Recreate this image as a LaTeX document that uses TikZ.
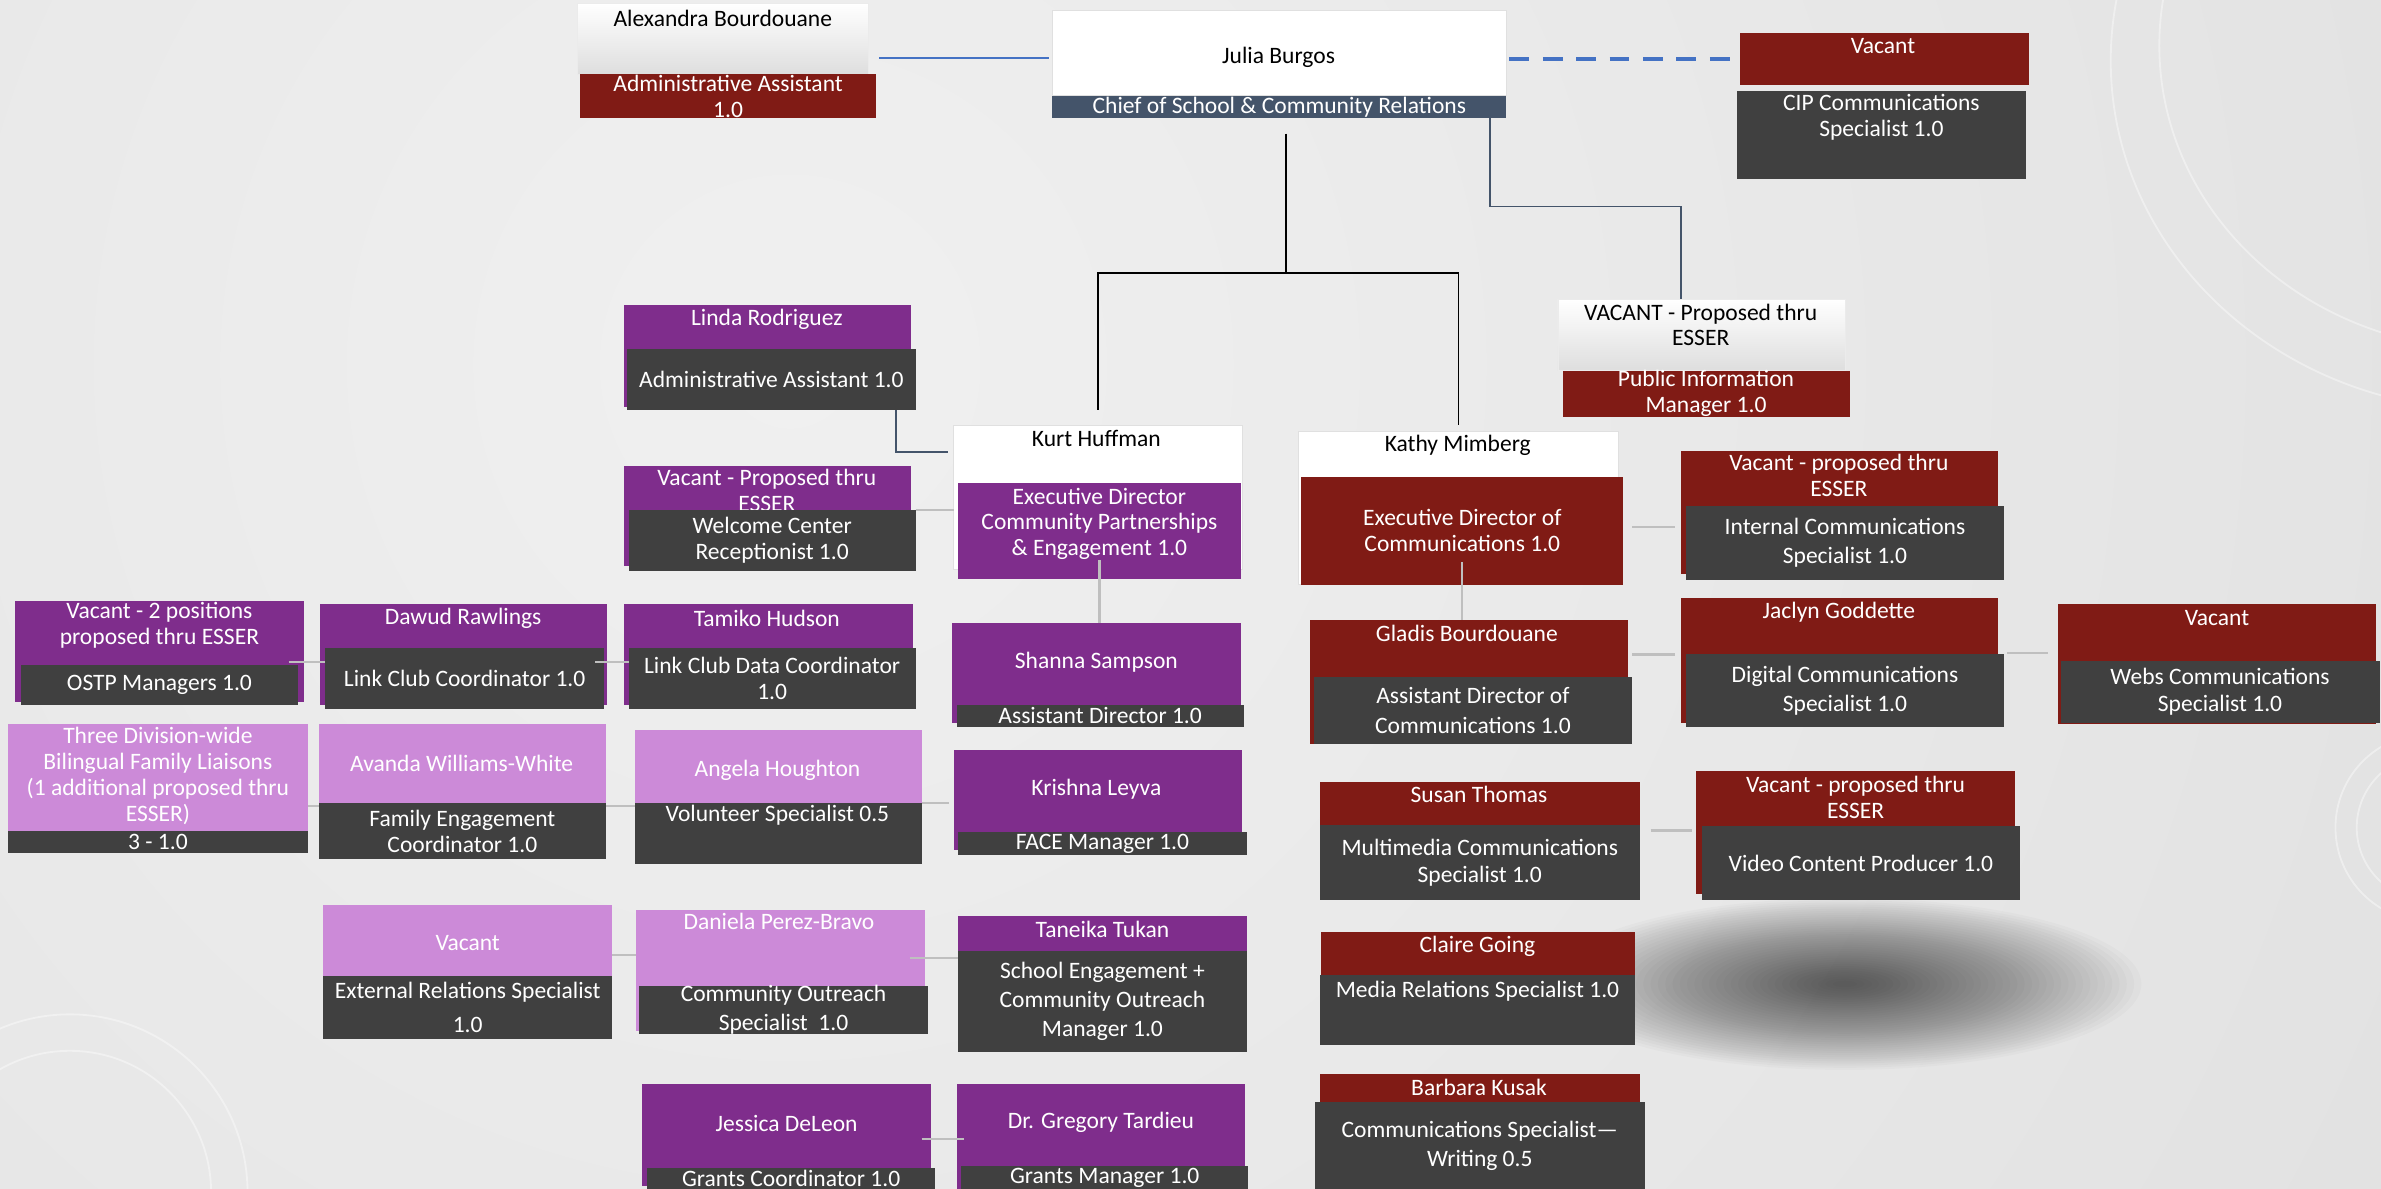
\documentclass[tikz,border=0pt]{standalone}
\usepackage{fontspec}
\setmainfont{Carlito}

\definecolor{cred}{RGB}{128,27,21}
\definecolor{cpurple}{RGB}{127,45,140}
\definecolor{clilac}{RGB}{204,138,216}
\definecolor{cdark}{RGB}{64,64,64}
\definecolor{cslate}{RGB}{68,84,106}
\definecolor{cblue}{RGB}{68,114,196}
\definecolor{cline}{RGB}{191,191,191}
\definecolor{bglight}{RGB}{240,240,240}
\definecolor{bgdark}{RGB}{216,216,216}

\tikzset{
  every node/.style={font=\fontsize{15.5}{17}\selectfont},
  box/.style={anchor=north west, inner sep=0pt, outer sep=0pt, align=center, text=white},
  wh/.style 2 args={minimum width=#1, minimum height=#2},
  boxr/.style={box, fill=cred},
  boxp/.style={box, fill=cpurple},
  boxl/.style={box, fill=clilac},
  boxd/.style={box, fill=cdark},
  boxs/.style={box, fill=cslate},
  boxw/.style={box, fill=white, draw=black!12, text=black},
  boxg/.style={box, top color=white, bottom color=black!13, draw=black!8, text=black},
  who/.style={inner sep=0pt, align=center, text=white},
  link/.style={draw=cline, line width=1.5pt},
  tree/.style={draw=black, line width=1.2pt},
  slateline/.style={draw=cslate, line width=1.3pt},
  ls/.style={font=\fontsize{15.5}{#1}\selectfont},
}

\begin{document}
\begin{tikzpicture}[x=1pt, y=-1pt]
  \useasboundingbox (0,0) rectangle (1568,783);
  % background
  \begin{scope}
    \clip (0,0) rectangle (1568,783);
    \shade[inner color=bglight, outer color=bgdark] (520,240) circle [radius=2000pt];
    \draw[white, opacity=0.4, line width=1.2pt] (1640,40) ellipse [x radius=250, y radius=230]
      (1640,30) ellipse [x radius=218, y radius=200]
      (1600,545) circle [radius=62pt] (1600,545) circle [radius=48pt]
      (46,785) circle [radius=117pt] (46,785) circle [radius=93pt];
    \foreach \k in {1,...,40}
      \fill[black, opacity=0.02] (1215,648) ellipse [x radius={200-4.8*\k}, y radius={58-1.4*\k}];
  \end{scope}

  % top row
  \node[boxg, wh={192}{47}] (alex) at (380,2) {};
  \node[who, text=black] (alexN) at (476,12) {Alexandra Bourdouane};
  \node[boxr, wh={195}{29}] (alexT) at (382,49) {Administrative Assistant\\1.0};

  \node[boxw, wh={299}{56}] (julia) at (693,7) {};
  \node[who, text=black] (juliaN) at (842,38) {Julia Burgos};
  \node[boxs, wh={299}{15}] (juliaT) at (693,63) {Chief of School \& Community Relations};

  \node[boxr, wh={190}{34}] (cip) at (1146,22) {};
  \node[who] (cipN) at (1240,30) {Vacant};
  \node[boxd, wh={190}{58}] (cipT) at (1144,60) {};
  \node[who] (cipX) at (1239,77) {CIP Communications\\Specialist 1.0};

  \node[boxg, wh={189}{47}] (pim) at (1026,197) {};
  \node[who, text=black] (pimN) at (1120,214) {VACANT - Proposed thru\\ESSER};
  \node[boxr, wh={189}{29}] (pimT) at (1029,244) {Public Information\\Manager 1.0};

  % Kurt Huffman
  \node[boxp, wh={189}{67}] (linda) at (411,201) {};
  \node[who] (lindaN) at (505,210) {Linda Rodriguez};
  \node[boxd, wh={190}{40}] (lindaT) at (413,230) {Administrative Assistant 1.0};

  \node[boxp, wh={189}{66}] (welcome) at (411,307) {};
  \node[who] (welcomeN) at (505,323) {Vacant - Proposed thru\\ESSER};
  \node[boxd, wh={189}{40}] (welcomeT) at (414,336) {Welcome Center\\Receptionist 1.0};

  \node[boxw, wh={190}{95}] (kurt) at (628,280) {};
  \node[who, text=black] (kurtN) at (722,289) {Kurt Huffman};
  \node[boxp, wh={186}{63}] (kurtT) at (631,318) {};
  \node[who] (kurtX) at (724,345) {Executive Director\\Community Partnerships\\\& Engagement 1.0};

  \node[boxp, wh={190}{66}] (shanna) at (627,410) {};
  \node[who] (shannaN) at (722,436) {Shanna Sampson};
  \node[boxd, wh={189}{15}] (shannaT) at (630,464) {Assistant Director 1.0};

  \node[boxp, wh={190}{66}] (krishna) at (628,494) {};
  \node[who] (krishnaN) at (722,520) {Krishna Leyva};
  \node[boxd, wh={190}{15}] (krishnaT) at (631,548) {FACE Manager 1.0};

  \node[boxp, wh={190}{23}] (taneika) at (631,603) {};
  \node[who] (taneikaN) at (726,612) {Taneika Tukan};
  \node[boxd, wh={190}{67}, ls=19] (taneikaT) at (631,626) {School Engagement +\\Community Outreach\\Manager 1.0};

  \node[boxp, wh={190}{69}] (gregory) at (630,714) {};
  \node[who] (gregoryN) at (725,739) {Dr. Gregory Tardieu};
  \node[boxd, wh={189}{15}] (gregoryT) at (633,768) {Grants Manager 1.0};

  \node[boxp, wh={190}{67}] (jessica) at (423,714) {};
  \node[who] (jessicaN) at (518,740) {Jessica DeLeon};
  \node[boxd, wh={190}{14}] (jessicaT) at (426,769) {Grants Coordinator 1.0};

  % family and community
  \node[boxp, wh={190}{66}] (tamiko) at (411,398) {};
  \node[who] (tamikoN) at (505,407) {Tamiko Hudson};
  \node[boxd, wh={189}{40}] (tamikoT) at (414,427) {Link Club Data Coordinator\\1.0};

  \node[boxp, wh={189}{66}] (dawud) at (211,398) {};
  \node[who] (dawudN) at (305,407) {Dawud Rawlings};
  \node[boxd, wh={184}{40}] (dawudT) at (214,427) {Link Club Coordinator 1.0};

  \node[boxp, wh={190}{66}] (ostp) at (10,396) {};
  \node[who] (ostpN) at (105,412) {Vacant - 2 positions\\proposed thru ESSER};
  \node[boxd, wh={182}{26}] (ostpT) at (14,438) {OSTP Managers 1.0};

  \node[boxl, wh={198}{70}] (liaison) at (5,477) {};
  \node[who] (liaisonN) at (104,511) {Three Division-wide\\Bilingual Family Liaisons\\(1 additional proposed thru\\ESSER)};
  \node[boxd, wh={198}{15}] (liaisonT) at (5,547) {3 - 1.0};

  \node[boxl, wh={189}{52}] (avanda) at (210,477) {};
  \node[who] (avandaN) at (304,503) {Avanda Williams-White};
  \node[boxd, wh={189}{37}] (avandaT) at (210,529) {Family Engagement\\Coordinator 1.0};

  \node[boxl, wh={189}{48}] (angela) at (418,481) {};
  \node[who] (angelaN) at (512,507) {Angela Houghton};
  \node[boxd, wh={189}{40}] (angelaT) at (418,529) {};
  \node[who] (angelaX) at (512,537) {Volunteer Specialist 0.5};

  \node[boxl, wh={190}{47}] (extrel) at (213,596) {};
  \node[who] (extrelN) at (308,621) {Vacant};
  \node[boxd, wh={190}{41}, ls=22] (extrelT) at (213,643) {External Relations Specialist\\1.0};

  \node[boxl, wh={190}{80}] (daniela) at (419,599) {};
  \node[who] (danielaN) at (513,607) {Daniela Perez-Bravo};
  \node[boxd, wh={190}{32}, ls=19] (danielaT) at (421,649) {Community Outreach\\Specialist\ \ 1.0};

  % Kathy Mimberg
  \node[boxw, wh={211}{101}] (kathy) at (855,284) {};
  \node[who, text=black] (kathyN) at (960,293) {Kathy Mimberg};
  \node[boxr, wh={212}{71}] (kathyT) at (857,314) {Executive Director of\\Communications 1.0};

  \node[boxr, wh={209}{81}] (intcomm) at (1107,297) {};
  \node[who] (intcommN) at (1211,313) {Vacant - proposed thru\\ESSER};
  \node[boxd, wh={210}{49}, ls=19] (intcommT) at (1110,333) {Internal Communications\\Specialist 1.0};

  \node[boxr, wh={209}{82}] (gladis) at (863,408) {};
  \node[who] (gladisN) at (966,417) {Gladis Bourdouane};
  \node[boxd, wh={210}{44}, ls=20] (gladisT) at (865,446) {Assistant Director of\\Communications 1.0};

  \node[boxr, wh={209}{82}] (jaclyn) at (1107,394) {};
  \node[who] (jaclynN) at (1211,403) {Jaclyn Goddette};
  \node[boxd, wh={210}{48}, ls=19] (jaclynT) at (1110,431) {Digital Communications\\Specialist 1.0};

  \node[boxr, wh={210}{79}] (webs) at (1355,398) {};
  \node[who] (websN) at (1460,407) {Vacant};
  \node[boxd, wh={210}{41}, ls=18] (websT) at (1357,435) {Webs Communications\\Specialist 1.0};

  \node[boxr, wh={211}{28}] (susan) at (869,515) {};
  \node[who] (susanN) at (974,523) {Susan Thomas};
  \node[boxd, wh={211}{50}, ls=18] (susanT) at (869,543) {Multimedia Communications\\Specialist 1.0};

  \node[boxr, wh={210}{81}] (video) at (1117,508) {};
  \node[who] (videoN) at (1222,525) {Vacant - proposed thru\\ESSER};
  \node[boxd, wh={209}{49}] (videoT) at (1121,544) {Video Content Producer 1.0};

  \node[boxr, wh={207}{69}] (claire) at (870,614) {};
  \node[who] (claireN) at (973,623) {Claire Going};
  \node[boxd, wh={208}{46}] (claireT) at (869,642) {};
  \node[who] (claireX) at (973,653) {Media Relations Specialist 1.0};

  \node[boxr, wh={211}{19}] (barbara) at (869,707) {};
  \node[who] (barbaraN) at (974,716) {Barbara Kusak};
  \node[boxd, wh={217}{57}, ls=19] (barbaraT) at (866,726) {Communications Specialist---\\Writing 0.5};

  % connectors
  \coordinate (split) at (847,180);
  \draw[tree] (split |- juliaT.south) ++(0,10) -- (split);
  \draw[tree] (kurt.north) ++(0,-10) |- (split) -| ([yshift=4pt]kathy.north);
  \draw[cblue, line width=1.5pt, shorten <=7pt, shorten >=2pt] (alex.east |- 0,38) -- (julia.west |- 0,38);
  \draw[cblue, line width=3pt, dash pattern=on 13pt off 9pt, shorten <=2pt] (julia.east |- 0,39) -- (cip.west |- 0,39);
  \draw[slateline] ([xshift=-11pt]juliaT.south east) -- ++(0,58) -| ([xshift=-13.5pt]pim.north);
  \draw[slateline] ([xshift=-13pt]lindaT.south east) |- ([shift={(-4,-30)}]kurt.west);

  \draw[link] (welcomeT.north east) -- (kurt.west |- welcomeT.north east);
  \draw[link] ([yshift=12pt]kurtT.south) -- (shanna.north -| kurtT.south);
  \draw[link] ([xshift=-6pt]ostpT.east |- 0,436) -- (dawudT.west |- 0,436);
  \draw[link] ([xshift=-8pt]dawud.east |- 0,436) -- (tamikoT.west |- 0,436);
  \draw[link] (liaison.east |- 0,531) -- (avanda.west |- 0,531);
  \draw[link] (avanda.east |- 0,531) -- (angela.west |- 0,531);
  \draw[link] (angela.east |- 0,529) -- ([xshift=-3pt]krishna.west |- 0,529);
  \draw[link] (extrel.east |- 0,629) -- (daniela.west |- 0,629);
  \draw[link] ([xshift=-10pt]daniela.east |- 0,631) -- (taneikaT.west |- 0,631);
  \draw[link] ([xshift=-6pt]jessica.east |- 0,750) -- ([xshift=5pt]gregory.west |- 0,750);
  \draw[link] ([xshift=6pt]kathyT.east |- 0,347) -- ([xshift=-4pt]intcomm.west |- 0,347);
  \draw[link] ([yshift=15pt]kathyT.south) -- (gladis.north -| kathyT.south);
  \draw[link] ([xshift=3pt]gladis.east |- 0,431) -- ([xshift=-4pt]jaclyn.west |- 0,431);
  \draw[link] ([xshift=2pt]jaclynT.east |- 0,430) -- ([xshift=-6pt]webs.west |- 0,430);
  \draw[link] ([xshift=7pt]susanT.east |- 0,547) -- ([xshift=-3pt]video.west |- 0,547);
\end{tikzpicture}
\end{document}
